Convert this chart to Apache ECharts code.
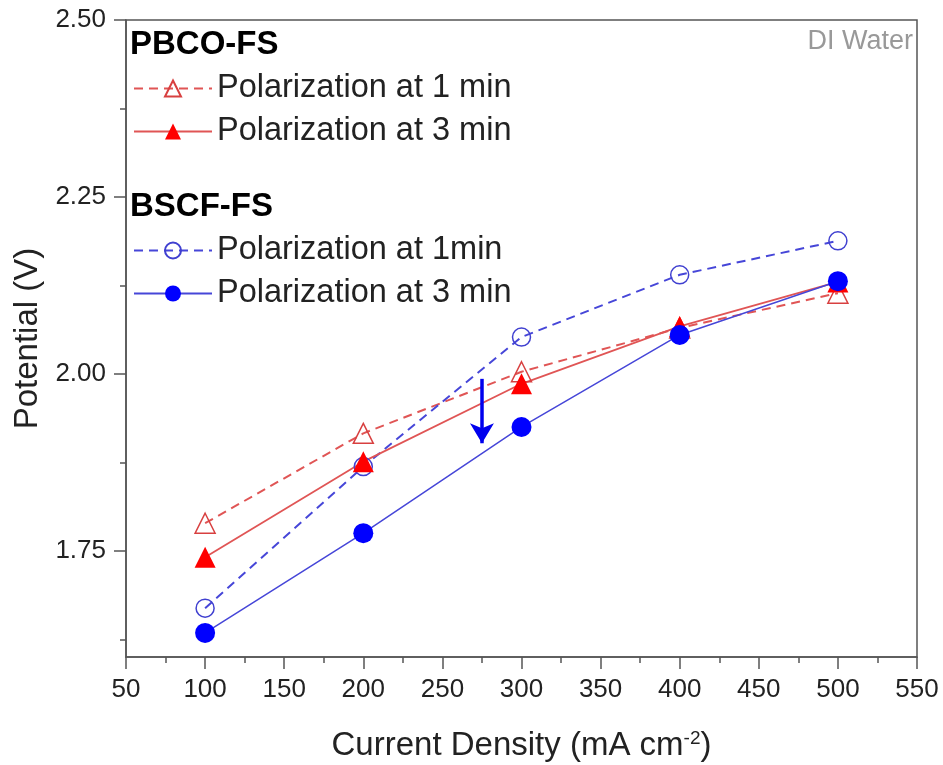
<!DOCTYPE html>
<html>
<head>
<meta charset="utf-8">
<script src="https://cdn.jsdelivr.net/npm/echarts@6/dist/echarts.min.js"></script>
<style>html,body{margin:0;padding:0;background:#fff}#c{width:943px;height:765px}</style>
</head>
<body>
<div id="c"></div>
<script>
const currentDensity = [100, 200, 300, 400, 500];
const pbco1min = [1.789, 1.916, 2.003, 2.065, 2.114];
const pbco3min = [1.741, 1.876, 1.986, 2.067, 2.130];
const bscf1min = [1.669, 1.869, 2.052, 2.140, 2.188];
const bscf3min = [1.634, 1.775, 1.925, 2.055, 2.131];
const arrowCoords = [[275, 1.993], [275, 1.902]];
const yMajorTicks = [1.75, 2.00, 2.25, 2.50];
const yMinorTicks = [1.625, 1.875, 2.125, 2.375];

const FONT = 'Liberation Sans';
const redLine = '#e05555', redMark = '#ff0000';
const blueLine = '#4646d8', blueMark = '#0000ff';

function pairs(ys) { return currentDensity.map((x, i) => [x, ys[i]]); }

const chart = echarts.init(document.getElementById('c'));
chart.setOption({
  animation: false,
  textStyle: { fontFamily: FONT },
  grid: { left: 126, right: 26, top: 20, bottom: 108, outerBoundsMode: 'none', show: true, borderColor: '#555', borderWidth: 1.5, backgroundColor: 'transparent' },
  xAxis: {
    type: 'value', min: 50, max: 550, interval: 50,
    name: '{a|Current Density (mA cm}{s|-2}{a|)}',
    nameLocation: 'middle', nameGap: 72,
    nameTextStyle: { rich: { a: { fontSize: 33, color: '#222', fontFamily: FONT }, s: { fontSize: 19, color: '#222', fontFamily: FONT, verticalAlign: 'top', padding: [0, 0, 15, 0] } } },
    axisLine: { lineStyle: { color: '#555', width: 1.5 } },
    axisTick: { inside: false, length: 12, lineStyle: { color: '#555', width: 1.5 } },
    minorTick: { show: true, splitNumber: 2, length: 6, lineStyle: { color: '#555', width: 1.5 } },
    axisLabel: { fontSize: 26, color: '#222', margin: 20 },
    splitLine: { show: false }
  },
  yAxis: [{
    type: 'value', min: 1.6, max: 2.5,
    name: 'Potential (V)', nameLocation: 'middle', nameGap: 79,
    nameTextStyle: { fontSize: 33, color: '#222' },
    axisLine: { lineStyle: { color: '#555', width: 1.5 } },
    axisTick: { inside: false, length: 12, customValues: yMajorTicks, lineStyle: { color: '#555', width: 1.5 } },
    axisLabel: { fontSize: 26, color: '#222', margin: 20, customValues: yMajorTicks, formatter: v => v.toFixed(2) },
    splitLine: { show: false }
  }, {
    type: 'value', min: 1.6, max: 2.5, position: 'left',
    axisLine: { show: false },
    axisTick: { show: true, inside: false, length: 6, customValues: yMinorTicks, lineStyle: { color: '#555', width: 1.5 } },
    axisLabel: { show: false, customValues: yMinorTicks },
    splitLine: { show: false }
  }],
  legend: [{
    orient: 'vertical', left: 128, top: 67, itemWidth: 78, itemHeight: 20, itemGap: 10,
    textStyle: { fontSize: 32.5, color: '#222', fontFamily: FONT },
    data: ['PBCO 1 min', 'PBCO 3 min'],
    formatter: n => n === 'PBCO 1 min' ? 'Polarization at 1 min' : 'Polarization at 3 min'
  }, {
    orient: 'vertical', left: 128, top: 229, itemWidth: 78, itemHeight: 20, itemGap: 10,
    textStyle: { fontSize: 32.5, color: '#222', fontFamily: FONT },
    data: ['BSCF 1 min', 'BSCF 3 min'],
    formatter: n => n === 'BSCF 1 min' ? 'Polarization at 1min' : 'Polarization at 3 min'
  }],
  graphic: [
    { type: 'text', left: 130, top: 28, style: { text: 'PBCO-FS', font: 'bold 33px ' + FONT, fill: '#000' } },
    { type: 'text', left: 130, top: 190, style: { text: 'BSCF-FS', font: 'bold 33px ' + FONT, fill: '#000' } },
    { type: 'text', right: 30, top: 28, style: { text: 'DI Water', font: '27px ' + FONT, fill: '#999' } }
  ],
  series: [
    { name: 'PBCO 1 min', type: 'line', data: pairs(pbco1min), symbol: 'triangle', symbolSize: 20,
      lineStyle: { color: redLine, width: 2, type: [9, 6] },
      itemStyle: { color: 'rgba(255,255,255,0)', borderColor: '#d84040', borderWidth: 1.5 } },
    { name: 'BSCF 1 min', type: 'line', data: pairs(bscf1min), symbol: 'circle', symbolSize: 18,
      lineStyle: { color: blueLine, width: 2, type: [9, 6] },
      itemStyle: { color: 'rgba(255,255,255,0)', borderColor: '#4040d0', borderWidth: 1.5 } },
    { name: 'PBCO 3 min', type: 'line', data: pairs(pbco3min), symbol: 'triangle', symbolSize: 21,
      lineStyle: { color: redLine, width: 1.8 },
      itemStyle: { color: redMark, borderWidth: 0 } },
    { name: 'BSCF 3 min', type: 'line', data: pairs(bscf3min), symbol: 'circle', symbolSize: 20,
      lineStyle: { color: blueLine, width: 1.5 },
      itemStyle: { color: blueMark, borderWidth: 0 },
      markLine: {
        silent: true, symbol: ['none', 'arrow'], symbolSize: [18, 20], label: { show: false },
        lineStyle: { color: '#0000ee', width: 3.5, type: 'solid' },
        data: [[{ coord: arrowCoords[0] }, { coord: arrowCoords[1] }]]
      } }
  ]
});
</script>
</body>
</html>
